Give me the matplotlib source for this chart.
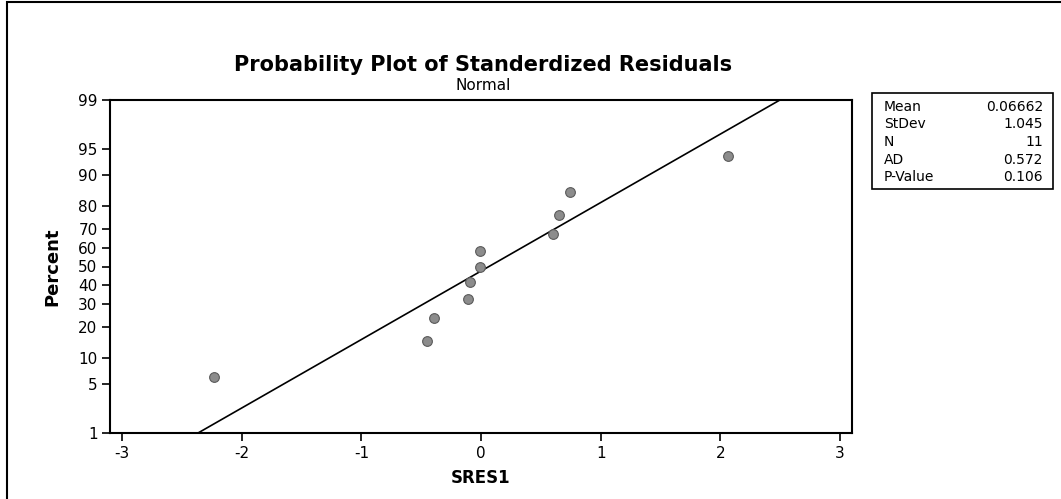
import matplotlib
matplotlib.use("Agg")
import matplotlib.pyplot as plt
from matplotlib.patches import Rectangle
from statistics import NormalDist
import numpy as np

# standardized residuals and their plotted percents
sres = [-2.23, -0.45, -0.39, -0.11, -0.09, -0.01, -0.01, 0.60, 0.65, 0.74, 2.06]
percent = [6.1, 14.9, 23.7, 32.5, 41.2, 50.0, 58.8, 67.5, 76.3, 85.1, 93.9]

stat_names = ['Mean', 'StDev', 'N', 'AD', 'P-Value']
stat_values = ['0.06662', '1.045', '11', '0.572', '0.106']
mean, stdev = 0.06662, 1.045

y_ticks = [1, 5, 10, 20, 30, 40, 50, 60, 70, 80, 90, 95, 99]
x_ticks = [-3, -2, -1, 0, 1, 2, 3]

nd = NormalDist()
probit = lambda p: nd.inv_cdf(p / 100.0)

W, H = 1061, 499
fig = plt.figure(figsize=(W / 100, H / 100), dpi=100)
ax = fig.add_axes([110 / W, 1 - 433 / H, (852 - 110) / W, (433 - 100) / H])

# fitted normal line
xs = np.linspace(-3.1, 3.1, 200)
ax.plot(xs, (xs - mean) / stdev, color='black', lw=1.2)

ax.plot(sres, [probit(p) for p in percent], 'o', ms=7, mfc='#8c8c8c',
        mec='#5a5a5a', mew=0.8)

ax.set_xlim(-3.1, 3.1)
ax.set_ylim(probit(1), probit(99))
ax.set_xticks(x_ticks)
ax.set_xticklabels([str(t) if t >= 0 else '-' + str(-t) for t in x_ticks])
ax.set_yticks([probit(p) for p in y_ticks])
ax.set_yticklabels([str(p) for p in y_ticks])
ax.tick_params(direction='out', length=6, width=1.2, labelsize=11, pad=3)
for s in ax.spines.values():
    s.set_linewidth(1.5)

ax.set_xlabel('SRES1', fontsize=12, fontweight='bold', labelpad=6)
ax.set_ylabel('Percent', fontsize=13, fontweight='bold', labelpad=12)

fig.text(483 / W, 1 - 65 / H, 'Probability Plot of Standerdized Residuals',
         ha='center', va='center', fontsize=15, fontweight='bold')
fig.text(483 / W, 1 - 85 / H, 'Normal', ha='center', va='center', fontsize=11)

# stats box
box_l, box_r, box_t, box_b = 872, 1053, 93, 189
fig.add_artist(Rectangle((box_l / W, 1 - box_b / H), (box_r - box_l) / W,
                         (box_b - box_t) / H, transform=fig.transFigure,
                         fill=False, lw=1.2, color='black'))
for i, (n, v) in enumerate(zip(stat_names, stat_values)):
    yy = 1 - (107 + i * 17.5) / H
    fig.text(884 / W, yy, n, ha='left', va='center', fontsize=10)
    fig.text(1043 / W, yy, v, ha='right', va='center', fontsize=10)

# outer frame
fig.add_artist(Rectangle((7 / W, -0.1), 1.2, 1.1 - 2 / H,
                         transform=fig.transFigure, fill=False, lw=1.5,
                         color='black'))

fig.savefig('out.png', dpi=100)
